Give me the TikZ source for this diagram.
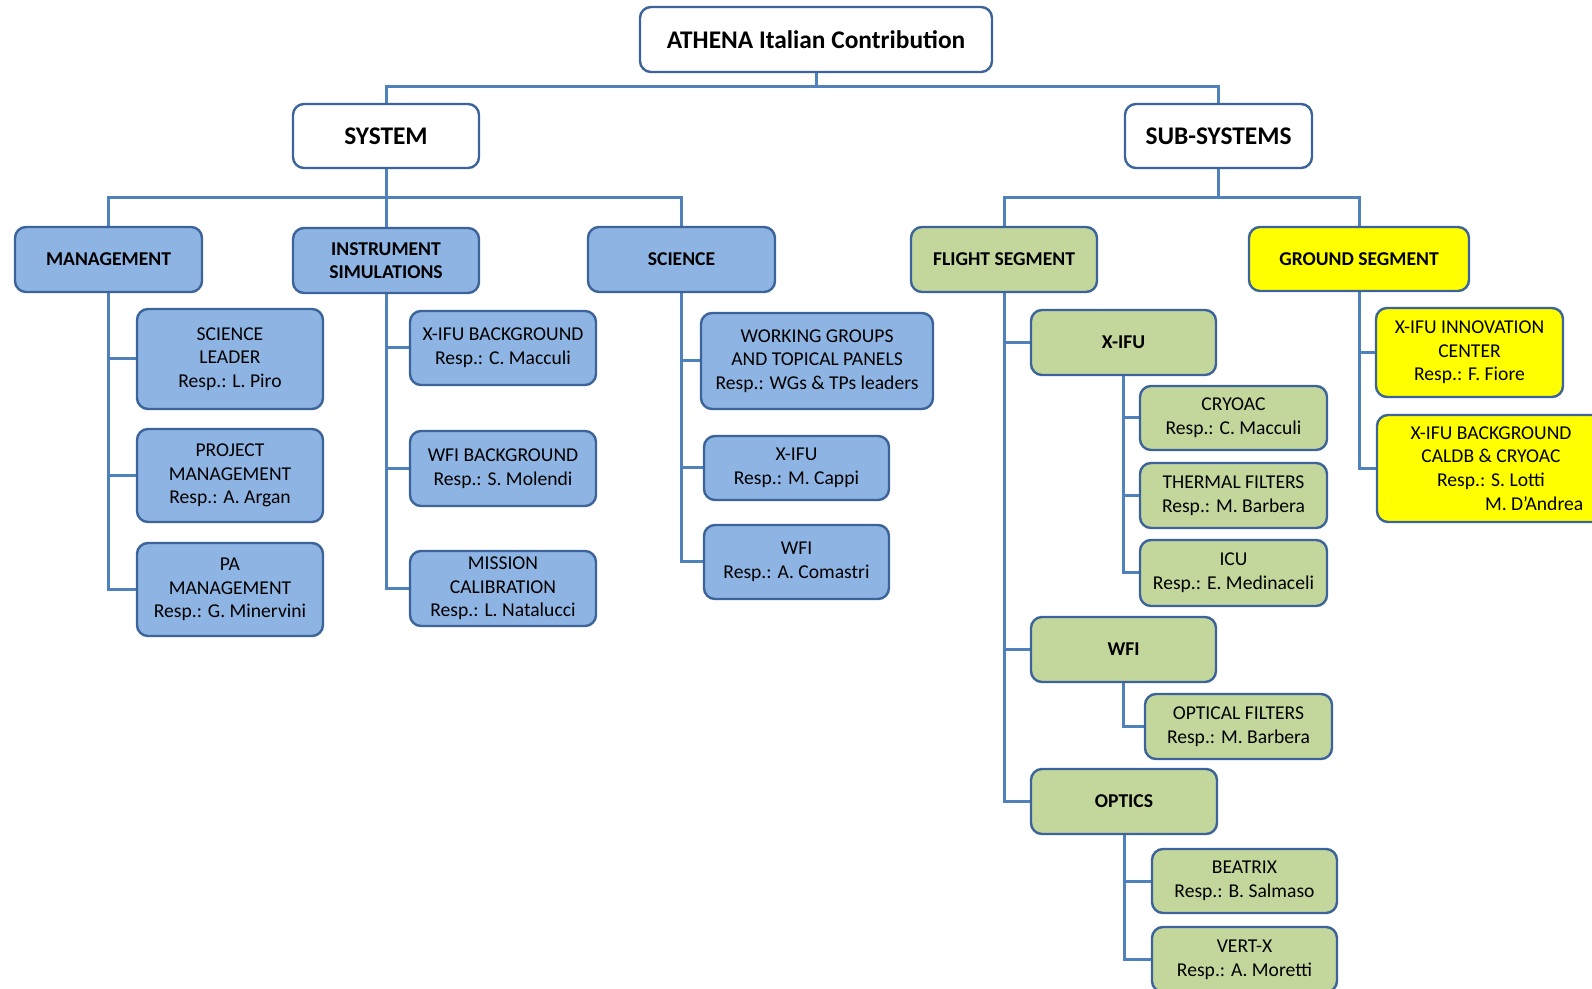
\documentclass[tikz,border=0pt]{standalone}
\usepackage{fontspec}
\setmainfont{Carlito}
\usetikzlibrary{backgrounds}
\definecolor{lineblue}{RGB}{79,129,189}
\definecolor{edgeblue}{RGB}{60,100,155}
\definecolor{fillblue}{RGB}{142,180,227}
\definecolor{fillgreen}{RGB}{195,214,155}
\definecolor{fillyellow}{RGB}{255,255,0}
\tikzset{
  base/.style={draw=edgeblue, line width=1.2pt, rounded corners=5.5pt, inner sep=0pt, align=center,
    font=\fontsize{9.8}{11.8}\selectfont},
  topbox/.style={base, fill=white, font=\fontsize{12.7}{15}\selectfont\bfseries},
  bluehead/.style={base, fill=fillblue, font=\fontsize{9.8}{11.8}\selectfont\bfseries},
  bluebox/.style={base, fill=fillblue},
  greenhead/.style={base, fill=fillgreen, font=\fontsize{9.8}{11.8}\selectfont\bfseries},
  greenbox/.style={base, fill=fillgreen},
  yellowhead/.style={base, fill=fillyellow, font=\fontsize{9.8}{11.8}\selectfont\bfseries},
  yellowbox/.style={base, fill=fillyellow},
  conn/.style={draw=lineblue, line width=1.5pt},
}
\newcommand\bx[7]{\node[#1, minimum width={(#5-#3)*0.5pt}, minimum height={(#6-#4)*0.5pt}] (#2) at ({(#3+#5)/2},{(#4+#6)/2}) {#7};}
\begin{document}
\begin{tikzpicture}[x=0.5pt,y=-0.5pt]
\useasboundingbox (0,0) rectangle (1592,989);
\clip (0,0) rectangle (1592,989);
\coordinate (j0) at (816,87);
\coordinate (j1) at (386,198);
\coordinate (j2) at (1218.5,198);
% nodes
\bx{topbox}{title}{640}{7}{992}{72}{ATHENA Italian Contribution}
\bx{topbox}{system}{293}{104}{479}{168}{SYSTEM}
\bx{topbox}{subsys}{1125}{104}{1312}{168}{SUB-SYSTEMS}
\bx{bluehead}{mgmt}{15}{227}{202}{292}{MANAGEMENT}
\bx{bluehead}{instr}{293}{228}{479}{293}{INSTRUMENT\\SIMULATIONS}
\bx{bluehead}{science}{588}{227}{775}{292}{SCIENCE}
\bx{greenhead}{flight}{911}{227}{1097}{292}{FLIGHT SEGMENT}
\bx{yellowhead}{ground}{1249}{227}{1469}{291}{GROUND SEGMENT}
\bx{bluebox}{sl}{137}{309}{323}{409}{\fontsize{9.8}{12.6}\selectfont SCIENCE\\LEADER\\Resp.: L. Piro}
\bx{bluebox}{pm}{137}{429}{323}{522}{\fontsize{9.8}{12.6}\selectfont PROJECT\\MANAGEMENT\\Resp.: A. Argan}
\bx{bluebox}{pa}{137}{543}{323}{636}{\fontsize{9.8}{12.6}\selectfont PA\\MANAGEMENT\\Resp.: G. Minervini}
\bx{bluebox}{xbg}{410}{311}{596}{385}{X-IFU BACKGROUND\\Resp.: C. Macculi}
\bx{bluebox}{wbg}{410}{431}{596}{506}{WFI BACKGROUND\\Resp.: S. Molendi}
\bx{bluebox}{mc}{410}{551}{596}{626}{MISSION\\CALIBRATION\\Resp.: L. Natalucci}
\bx{bluebox}{wg}{701}{313}{933}{409}{WORKING GROUPS\\AND TOPICAL PANELS\\Resp.: WGs \& TPs leaders}
\bx{bluebox}{sxifu}{704}{436}{889}{500}{X-IFU\\Resp.: M. Cappi}
\bx{bluebox}{swfi}{704}{525}{889}{599}{WFI\\Resp.: A. Comastri}
\bx{greenhead}{fxifu}{1031}{310}{1216}{375}{X-IFU}
\bx{greenbox}{cryo}{1140}{386}{1327}{450}{CRYOAC\\Resp.: C. Macculi}
\bx{greenbox}{thf}{1140}{463}{1327}{528}{THERMAL FILTERS\\Resp.: M. Barbera}
\bx{greenbox}{icu}{1140}{540}{1327}{606}{ICU\\Resp.: E. Medinaceli}
\bx{greenhead}{fwfi}{1031}{617}{1216}{682}{WFI}
\bx{greenbox}{opf}{1145}{694}{1332}{759}{OPTICAL FILTERS\\Resp.: M. Barbera}
\bx{greenhead}{optics}{1031}{769}{1217}{834}{OPTICS}
\bx{greenbox}{beat}{1152}{849}{1337}{913}{BEATRIX\\Resp.: B. Salmaso}
\bx{greenbox}{vertx}{1152}{927}{1337}{992}{VERT-X\\Resp.: A. Moretti}
\bx{yellowbox}{ginn}{1376}{308}{1563}{397}{X-IFU INNOVATION\\CENTER\\Resp.: F. Fiore}
\bx{yellowbox}{gbg}{1377}{415}{1605}{522}{\fontsize{9.8}{11.4}\selectfont X-IFU BACKGROUND\\CALDB \& CRYOAC\\Resp.: S. Lotti\\\hspace*{4.4em}M. D'Andrea}
% connectors
\begin{scope}[on background layer]
\draw[conn] (title.south) -- (j0);
\draw[conn] (system.north) -- (system.north |- j0) -- (subsys.north |- j0) -- (subsys.north);
\draw[conn] (system.south) -- (j1);
\draw[conn] (mgmt.north) -- (mgmt.north |- j1) -- (science.north |- j1) -- (science.north);
\draw[conn] (j1) -- (instr.north);
\draw[conn] (subsys.south) -- (j2);
\draw[conn] (flight.north) -- (flight.north |- j2) -- (ground.north |- j2) -- (ground.north);
\foreach \c in {sl,pm,pa} \draw[conn] (mgmt.south) |- (\c.west);
\foreach \c in {xbg,wbg,mc} \draw[conn] (instr.south) |- (\c.west);
\foreach \c in {wg,sxifu,swfi} \draw[conn] (science.south) |- (\c.west);
\foreach \c in {fxifu,fwfi,optics} \draw[conn] (flight.south) |- (\c.west);
\foreach \c in {cryo,thf,icu} \draw[conn] (fxifu.south) |- (\c.west);
\draw[conn] (fwfi.south) |- (opf.west);
\foreach \c in {beat,vertx} \draw[conn] (optics.south) |- (\c.west);
\foreach \c in {ginn,gbg} \draw[conn] (ground.south) |- (\c.west);
\end{scope}
\end{tikzpicture}
\end{document}
